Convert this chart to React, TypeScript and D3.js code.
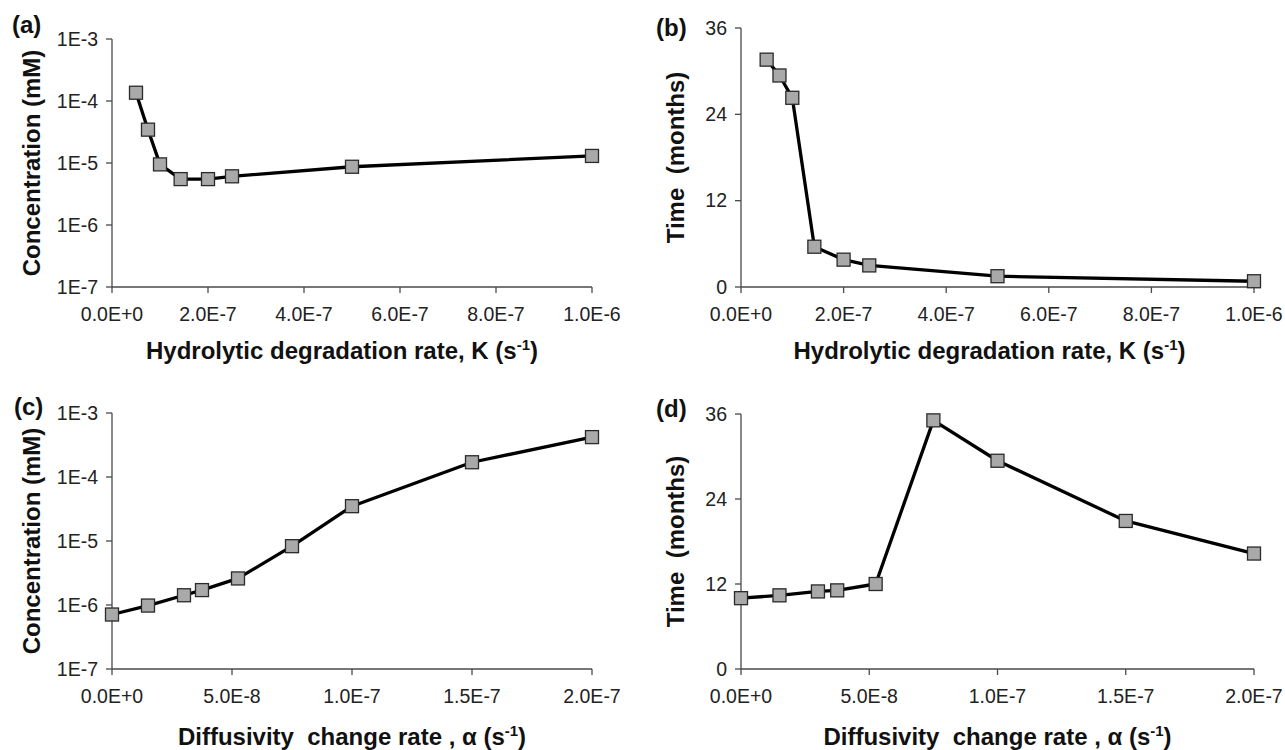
import React from "react";
import * as d3 from "d3";

// ---------- data ----------
const kRates = [5e-8, 7.5e-8, 1e-7, 1.43e-7, 2e-7, 2.5e-7, 5e-7, 1e-6];
const concVsK = [1.36e-4, 3.45e-5, 9.5e-6, 5.5e-6, 5.5e-6, 6.1e-6, 8.7e-6, 1.3e-5];
const timeVsK = [31.6, 29.4, 26.3, 5.6, 3.8, 3.0, 1.5, 0.8];

const alphaRates = [0, 1.5e-8, 3e-8, 3.75e-8, 5.25e-8, 7.5e-8, 1e-7, 1.5e-7, 2e-7];
const concVsAlpha = [7.1e-7, 9.8e-7, 1.42e-6, 1.71e-6, 2.6e-6, 8.3e-6, 3.5e-5, 1.7e-4, 4.2e-4];
const timeVsAlpha = [10.0, 10.4, 10.95, 11.1, 12.0, 35.1, 29.4, 20.9, 16.3];

const kTicks = [0, 2e-7, 4e-7, 6e-7, 8e-7, 1e-6];
const alphaTicks = [0, 5e-8, 1e-7, 1.5e-7, 2e-7];
const logTicks = [1e-7, 1e-6, 1e-5, 1e-4, 1e-3];
const timeTicks = [0, 12, 24, 36];

const FONT = "'Liberation Sans', Arial, Helvetica, sans-serif";

const fmtX = (v: number) => v.toExponential(1).replace("e", "E");
const fmtLog = (v: number) => "1E" + Math.round(Math.log10(v));

type PanelProps = {
  letter: string;
  box: { l: number; r: number; t: number; b: number };
  xs: number[];
  ys: number[];
  xTicks: number[];
  yTicks: number[];
  log: boolean;
  yDomain: [number, number];
  xDomain: [number, number];
  yTitle: string;
  yTitleX: number;
  xTitle: string;
  xTitleY: number;
  xTitleShift: number;
  letterPos: [number, number];
};

function Panel(p: PanelProps) {
  const x = d3.scaleLinear().domain(p.xDomain).range([p.box.l, p.box.r]);
  const y = p.log
    ? d3.scaleLog().domain(p.yDomain).range([p.box.b, p.box.t])
    : d3.scaleLinear().domain(p.yDomain).range([p.box.b, p.box.t]);
  const line = d3
    .line<number>()
    .x((_, i) => x(p.xs[i]))
    .y((d) => y(d));
  const ms = 13;
  const axisColor = "#4a4a4a";
  const cx = (p.box.l + p.box.r) / 2 + p.xTitleShift;
  const cy = (p.box.t + p.box.b) / 2;
  return (
    <g>
      <text x={p.letterPos[0]} y={p.letterPos[1]} fontFamily={FONT} fontWeight="bold" fontSize={24} fill="#111">
        {p.letter}
      </text>
      {/* axes */}
      <line x1={p.box.l} x2={p.box.l} y1={p.box.t} y2={p.box.b} stroke={axisColor} strokeWidth={1.3} />
      <line x1={p.box.l} x2={p.box.r} y1={p.box.b} y2={p.box.b} stroke={axisColor} strokeWidth={1.3} />
      {p.yTicks.map((t) => (
        <g key={"y" + t}>
          <line x1={p.box.l - 6} x2={p.box.l} y1={y(t)} y2={y(t)} stroke={axisColor} strokeWidth={1.3} />
          <text
            x={p.box.l - 14}
            y={y(t)}
            dy="0.35em"
            textAnchor="end"
            fontFamily={FONT}
            fontSize={19.5}
            fill="#222"
          >
            {p.log ? fmtLog(t) : String(t)}
          </text>
        </g>
      ))}
      {p.xTicks.map((t) => (
        <g key={"x" + t}>
          <line x1={x(t)} x2={x(t)} y1={p.box.b} y2={p.box.b + 6} stroke={axisColor} strokeWidth={1.3} />
          <text x={x(t)} y={p.box.b + 34} textAnchor="middle" fontFamily={FONT} fontSize={19.5} fill="#222">
            {fmtX(t)}
          </text>
        </g>
      ))}
      {/* titles */}
      <text
        transform={`translate(${p.yTitleX},${cy}) rotate(-90)`}
        textAnchor="middle"
        fontFamily={FONT}
        fontWeight="bold"
        fontSize={24}
        fill="#111"
        style={{ whiteSpace: "pre" }}
      >
        {p.yTitle}
      </text>
      <text x={cx} y={p.xTitleY} textAnchor="middle" fontFamily={FONT} fontWeight="bold" fontSize={24} fill="#111" style={{ whiteSpace: "pre" }}>
        {p.xTitle}
        <tspan fontSize={15} dy={-9}>-1</tspan>
        <tspan dy={9}>)</tspan>
      </text>
      {/* series */}
      <path d={line(p.ys) || ""} fill="none" stroke="#000" strokeWidth={3.3} strokeLinejoin="round" />
      {p.ys.map((v, i) => (
        <rect
          key={i}
          x={x(p.xs[i]) - ms / 2}
          y={y(v) - ms / 2}
          width={ms}
          height={ms}
          fill="#a9a9a9"
          stroke="#2a2a2a"
          strokeWidth={1.3}
        />
      ))}
    </g>
  );
}

export default function App() {
  return (
    <svg
      width={1285}
      height={750}
      style={{ position: "absolute", left: 0, top: 0, background: "#fff" }}
    >
      <rect width={1285} height={750} fill="#fff" />
      <Panel
        letter="(a)"
        letterPos={[12, 33]}
        box={{ l: 112, r: 592, t: 39, b: 287 }}
        xs={kRates}
        ys={concVsK}
        xTicks={kTicks}
        yTicks={logTicks}
        log={true}
        yDomain={[1e-7, 1e-3]}
        xDomain={[0, 1e-6]}
        yTitle="Concentration (mM)"
        yTitleX={40}
        xTitle="Hydrolytic degradation rate, K (s"
        xTitleY={359}
        xTitleShift={-10}
      />
      <Panel
        letter="(b)"
        letterPos={[656, 36]}
        box={{ l: 741, r: 1254, t: 28, b: 287 }}
        xs={kRates}
        ys={timeVsK}
        xTicks={kTicks}
        yTicks={timeTicks}
        log={false}
        yDomain={[0, 36]}
        xDomain={[0, 1e-6]}
        yTitle="Time  (months)"
        yTitleX={684}
        xTitle="Hydrolytic degradation rate, K (s"
        xTitleY={359}
        xTitleShift={-8}
      />
      <Panel
        letter="(c)"
        letterPos={[14, 415]}
        box={{ l: 112, r: 592, t: 413, b: 669 }}
        xs={alphaRates}
        ys={concVsAlpha}
        xTicks={alphaTicks}
        yTicks={logTicks}
        log={true}
        yDomain={[1e-7, 1e-3]}
        xDomain={[0, 2e-7]}
        yTitle="Concentration (mM)"
        yTitleX={40}
        xTitle="Diffusivity  change rate , α (s"
        xTitleY={745}
        xTitleShift={0}
      />
      <Panel
        letter="(d)"
        letterPos={[656, 417]}
        box={{ l: 741, r: 1254, t: 414, b: 669 }}
        xs={alphaRates}
        ys={timeVsAlpha}
        xTicks={alphaTicks}
        yTicks={timeTicks}
        log={false}
        yDomain={[0, 36]}
        xDomain={[0, 2e-7]}
        yTitle="Time  (months)"
        yTitleX={684}
        xTitle="Diffusivity  change rate , α (s"
        xTitleY={745}
        xTitleShift={0}
      />
    </svg>
  );
}
